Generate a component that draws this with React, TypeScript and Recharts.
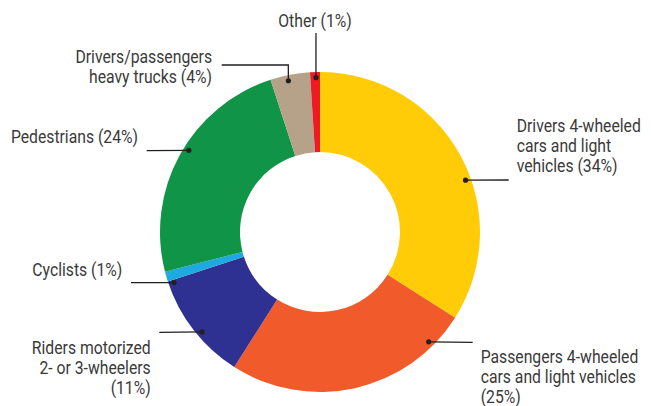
import React from 'react';
import { PieChart, Pie, Cell } from 'recharts';

const categories = [
  'Drivers 4-wheeled cars and light vehicles',
  'Passengers 4-wheeled cars and light vehicles',
  'Riders motorized 2- or 3-wheelers',
  'Cyclists',
  'Pedestrians',
  'Drivers/passengers heavy trucks',
  'Other',
];
const shares = [34, 25, 11, 1, 24, 4, 1];
const labelLines = [
  ['Drivers 4-wheeled', 'cars and light', 'vehicles (34%)'],
  ['Passengers 4-wheeled', 'cars and light vehicles', '(25%)'],
  ['Riders motorized', '2- or 3-wheelers', '(11%)'],
  ['Cyclists (1%)'],
  ['Pedestrians (24%)'],
  ['Drivers/passengers', 'heavy trucks (4%)'],
  ['Other (1%)'],
];
const colors = ['#FFCC07', '#F15A2B', '#2E3192', '#1FA9E1', '#0F9448', '#B5A289', '#ED1C24'];

const data = categories.map((name, i) => ({ name, value: shares[i] }));

// leader layout relative to pie centre: dot angle (deg), path bends, text anchor
type Layout = { angle: number; path: [number, number][]; tx: number; ty: number; anchor: 'start' | 'end' | 'middle' };
const layout: Layout[] = [
  { angle: 19.6, path: [[188.7, -52]], tx: 196.7, ty: -105.3, anchor: 'start' },
  { angle: -45.3, path: [[152.7, 110.3]], tx: 160.7, ty: 124.8, anchor: 'start' },
  { angle: -139.7, path: [[-160.7, 100.3]], tx: -169.3, ty: 116.3, anchor: 'end' },
  { angle: -160.9, path: [[-189, 50.7]], tx: -197.7, ty: 38.7, anchor: 'end' },
  { angle: 148.1, path: [[-173.3, -81.3]], tx: -182, ty: -94.3, anchor: 'end' },
  { angle: 101.8, path: [[-31.7, -167], [-98.3, -167]], tx: -108, ty: -175, anchor: 'end' },
  { angle: 91.5, path: [[-4, -199]], tx: -5, ty: -210.3, anchor: 'middle' },
];

const DOT_R = 154.5;
const FONT = 'Roboto, "Liberation Sans", sans-serif';
const SQUEEZE = 0.9; // condensed look

const renderLabel = (props: any) => {
  const { cx, cy, index } = props;
  const l = layout[index];
  const rad = (l.angle * Math.PI) / 180;
  const dx = cx + DOT_R * Math.cos(rad);
  const dy = cy - DOT_R * Math.sin(rad);
  const pts = [[dx, dy], ...l.path.map(([x, y]) => [cx + x, cy + y])];
  return (
    <g key={`lbl-${index}`}>
      <polyline points={pts.map((p) => p.join(',')).join(' ')} fill="none" stroke="#231F20" strokeWidth={1.3} />
      <circle cx={dx} cy={dy} r={2.6} fill="#231F20" />
      {labelLines[index].map((line, j) => (
        <text
          key={j}
          x={0}
          y={0}
          transform={`translate(${cx + l.tx},${cy + l.ty + j * 20}) scale(${SQUEEZE},1)`}
          textAnchor={l.anchor}
          dominantBaseline="central"
          fill="#3A3A3A"
          fontSize={17.5}
          fontFamily={FONT}
        >
          {line}
        </text>
      ))}
    </g>
  );
};

export default function App() {
  return (
    <div style={{ position: 'fixed', left: 0, top: 0, width: 651, height: 406, background: '#fff' }}>
      <PieChart width={651} height={406} margin={{ top: 0, right: 0, bottom: 0, left: 0 }}>
        <Pie
          data={data}
          dataKey="value"
          nameKey="name"
          cx={320}
          cy={232}
          innerRadius={80}
          outerRadius={160}
          startAngle={90}
          endAngle={-270}
          stroke="none"
          label={renderLabel}
          labelLine={false}
          isAnimationActive={false}
        >
          {data.map((d, i) => (
            <Cell key={d.name} fill={colors[i]} />
          ))}
        </Pie>
      </PieChart>
    </div>
  );
}
